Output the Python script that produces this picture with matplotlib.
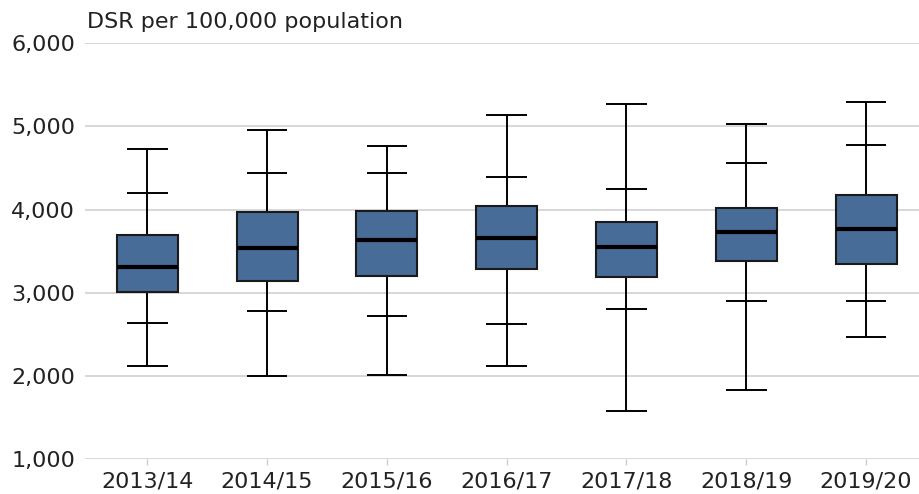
import matplotlib
matplotlib.use("Agg")
import matplotlib.pyplot as plt
from matplotlib.patches import Rectangle

categories = ["2013/14", "2014/15", "2015/16", "2016/17", "2017/18", "2018/19", "2019/20"]
minimum = [2116, 2000, 2008, 2116, 1584, 1832, 2464]
lower_inner = [2640, 2780, 2728, 2632, 2808, 2908, 2900]
q1 = [3008, 3148, 3208, 3288, 3192, 3380, 3352]
median = [3308, 3540, 3640, 3660, 3548, 3728, 3768]
q3 = [3696, 3968, 3988, 4040, 3852, 4016, 4180]
upper_inner = [4200, 4440, 4440, 4392, 4248, 4560, 4780]
maximum = [4728, 4952, 4768, 5140, 5272, 5032, 5300]
yticks = [1000, 2000, 3000, 4000, 5000, 6000]
ylabel = "DSR per 100,000 population"

plt.rcParams['font.family'] = ['DejaVu Sans']
fig = plt.figure(figsize=(9.2, 4.94), dpi=100)
ax = fig.add_axes([85/920, 1 - 459.3/494, 1 - 85/920, (459.3 - 43.3)/494])

box_fill = "#476c98"
text_color = "#222222"
box_w = 0.51
cap_w = 0.17
fs = 16

for i, cat in enumerate(categories):
    ax.plot([i, i], [minimum[i], q1[i]], color="black", lw=1.4, zorder=2, solid_capstyle="butt")
    ax.plot([i, i], [q3[i], maximum[i]], color="black", lw=1.4, zorder=2, solid_capstyle="butt")
    for v in (minimum[i], lower_inner[i], upper_inner[i], maximum[i]):
        ax.plot([i - cap_w, i + cap_w], [v, v], color="black", lw=1.4, zorder=2, solid_capstyle="butt")
    ax.add_patch(Rectangle((i - box_w / 2, q1[i]), box_w, q3[i] - q1[i],
                           facecolor=box_fill, edgecolor="#1a1a1a", lw=1.5, zorder=3))
    ax.plot([i - box_w / 2, i + box_w / 2], [median[i], median[i]], color="black", lw=3, zorder=4,
            solid_capstyle="butt")

ax.set_xlim(-0.52, 6.45)
ax.set_ylim(1000, 6000)
ax.set_yticks(yticks)
ax.set_yticklabels([f"{v:,}" for v in yticks])
ax.set_xticks(range(len(categories)))
ax.set_xticklabels(categories)
ax.grid(axis="y", color="#d4d4d4", lw=1.3)
ax.set_axisbelow(True)
for s in ax.spines.values():
    s.set_visible(False)
ax.tick_params(axis="y", length=0, pad=7, labelsize=fs, labelcolor=text_color)
ax.tick_params(axis="x", length=4, color="#cccccc", width=1, pad=5, labelsize=fs, labelcolor=text_color)

fig.text(87/920, 1 - 22/494, ylabel, fontsize=fs, color=text_color, va="center", ha="left")

fig.savefig("out.png", dpi=100)
